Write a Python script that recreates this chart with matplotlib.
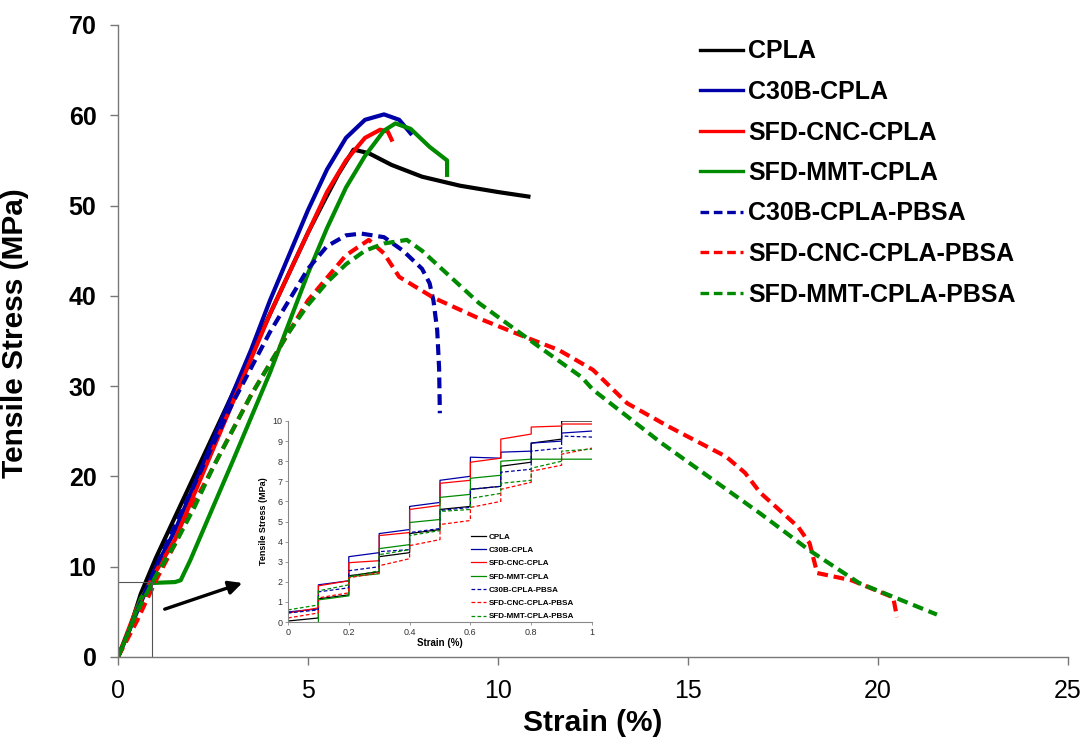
import matplotlib
matplotlib.use("Agg")
import matplotlib.pyplot as plt
import numpy as np

plt.rcParams['font.family'] = ['Liberation Sans', 'DejaVu Sans']

labels = ["CPLA", "C30B-CPLA", "SFD-CNC-CPLA", "SFD-MMT-CPLA",
          "C30B-CPLA-PBSA", "SFD-CNC-CPLA-PBSA", "SFD-MMT-CPLA-PBSA"]
colors = ["#000000", "#0000a8", "#ff0000", "#008a00", "#0000a8", "#ff0000", "#008a00"]
dashed = [False, False, False, False, True, True, True]

# Main curves: strain (%) and stress (MPa)
cpla_x = [0, 0.3, 0.6, 1.0, 1.5, 2.0, 2.5, 3.0, 3.5, 4.0, 4.5, 5.0, 5.4, 5.8, 6.2, 6.6, 7.2, 8.0, 9.0, 10.0, 10.8]
cpla_y = [0, 3, 7, 11, 15.5, 20, 24.5, 29, 33.5, 38, 42.5, 47, 50.3, 53.5, 56.2, 55.8, 54.5, 53.2, 52.2, 51.5, 51.0]
c30b_x = [0, 0.5, 1.0, 1.5, 2.0, 2.5, 3.0, 3.5, 4.0, 4.5, 5.0, 5.5, 6.0, 6.5, 7.0, 7.4, 7.7]
c30b_y = [0, 5, 10, 14, 19, 24, 29, 34, 39.5, 44.5, 49.5, 54, 57.5, 59.5, 60.1, 59.5, 58.0]
cnc_x = [0, 0.5, 1.0, 1.5, 2.0, 2.5, 3.0, 3.5, 4.0, 4.5, 5.0, 5.5, 6.0, 6.5, 6.9, 7.1, 7.2]
cnc_y = [0, 5.5, 9.5, 13, 18, 23, 28, 33, 38, 42.5, 47, 51.5, 55, 57.5, 58.4, 58.2, 57.3]
mmt_x = [0, 0.3, 0.6, 0.9, 1.5, 1.65, 1.9, 2.5, 3.0, 3.5, 4.0, 4.5, 5.0, 5.5, 6.0, 6.5, 7.0, 7.3, 7.7, 8.2, 8.66, 8.66]
mmt_y = [0, 3, 6.5, 8.2, 8.3, 8.5, 10.7, 16.6, 21.5, 26.5, 31.5, 37, 42.5, 47.5, 52, 55.5, 58.3, 59.1, 58.5, 56.5, 55.0, 53.4]
c30b_p_x = [0, 0.5, 1.0, 1.5, 2.0, 2.5, 3.0, 3.5, 4.0, 4.5, 5.0, 5.5, 6.0, 6.4, 7.0, 7.5, 8.0, 8.2, 8.3, 8.4, 8.45, 8.47]
c30b_p_y = [0, 5, 10, 14.5, 19, 23.5, 28, 32, 36, 39.5, 43, 45.5, 46.7, 46.9, 46.5, 45, 43, 41.4, 39.5, 36.2, 32, 27]
cnc_p_x = [0, 0.5, 1.0, 1.5, 2.0, 2.5, 3.0, 3.5, 4.0, 4.5, 5.0, 5.5, 6.0, 6.6, 7.0, 7.4, 8.3, 9.5, 10.8, 11.6, 12.5, 13.4, 14.5, 16.0, 16.5, 16.9, 17.9, 18.2, 18.4, 19.3, 20.4, 20.5]
cnc_p_y = [0, 4, 8.5, 12.5, 17, 21, 25, 29, 32.5, 36, 39.5, 42, 44.5, 46.2, 44.7, 42.1, 39.8, 37.5, 35.3, 34, 31.8, 28.1, 25.5, 22.2, 20.4, 18.2, 14.4, 12.6, 9.3, 8.5, 6.6, 4.4]
mmt_p_x = [0, 0.5, 1.0, 1.5, 2.0, 2.5, 3.0, 3.5, 4.0, 4.5, 5.0, 5.5, 6.0, 6.5, 7.0, 7.6, 8.0, 9.5, 11.1, 12.2, 12.5, 14.3, 16.9, 18.2, 19.5, 21.55]
mmt_p_y = [0, 5, 9, 12.5, 16.5, 21, 25, 29, 32.5, 36, 39, 41.5, 43.5, 45, 45.8, 46.2, 45, 39.2, 34.3, 31, 29.6, 23.7, 15.9, 11.8, 8.2, 4.7]

main_x = [cpla_x, c30b_x, cnc_x, mmt_x, c30b_p_x, cnc_p_x, mmt_p_x]
main_y = [cpla_y, c30b_y, cnc_y, mmt_y, c30b_p_y, cnc_p_y, mmt_p_y]

# Inset: stress at start and end of each 0.1 % strain step
step_edges = [0, 0.1, 0.2, 0.3, 0.4, 0.5, 0.6, 0.7, 0.8, 0.9, 1.0]
ins_start = [
    [0.05, 1.15, 2.3, 3.25, 4.4, 5.6, 6.6, 7.75, 8.9, 10.0],
    [0.5, 1.85, 3.25, 4.4, 5.75, 7.05, 8.2, 8.45, 8.9, 9.4],
    [0.45, 1.8, 2.95, 4.3, 5.6, 6.9, 7.95, 9.1, 9.7, 9.85],
    [None, 1.1, 2.25, 3.65, 4.95, 6.2, 7.15, 8.0, 8.1, 8.1],
    [0.45, 1.5, 2.55, 3.5, 4.45, 5.55, 6.6, 7.45, 8.5, 9.25],
    [0.2, 1.2, 2.2, 2.8, 3.8, 4.85, 5.7, 6.6, 7.5, 8.35],
    [0.6, 1.55, 2.25, 3.35, 4.3, 5.5, 6.15, 6.9, 7.65, 8.5],
]
ins_end = [
    [0.2, 1.35, 2.5, 3.45, 4.6, 5.75, 6.75, 7.95, 9.1, 10.0],
    [0.65, 2.05, 3.45, 4.6, 5.95, 7.25, 8.15, 8.5, 9.0, 9.5],
    [0.7, 2.05, 3.05, 4.45, 5.8, 7.05, 8.15, 9.35, 9.75, 9.85],
    [0.0, 1.3, 2.4, 3.85, 5.1, 6.35, 7.3, 8.1, 8.1, 8.1],
    [0.6, 1.7, 2.75, 3.6, 4.65, 5.7, 6.75, 7.6, 8.65, 9.2],
    [0.45, 1.45, 2.45, 3.15, 4.1, 5.05, 6.0, 6.95, 7.8, 8.65],
    [0.85, 1.85, 2.55, 3.6, 4.55, 5.6, 6.4, 7.05, 8.0, 8.6],
]

W, H = 1085, 740
fig = plt.figure(figsize=(W / 100, H / 100), dpi=100)
ax = fig.add_axes([118 / W, 1 - 657 / H, (1068 - 118) / W, (657 - 25) / H])

for xs, ys, c, d, lab in zip(main_x, main_y, colors, dashed, labels):
    ln, = ax.plot(xs, ys, color=c, lw=3.0, label=lab, solid_joinstyle='round')
    if d:
        ln.set_dashes((2.6, 1.4))

ax.set_xlim(0, 25)
ax.set_ylim(0, 70)
ax.set_xticks([0, 5, 10, 15, 20, 25])
ax.set_yticks(range(0, 71, 10))
for s in ['top', 'right']:
    ax.spines[s].set_visible(False)
for s in ['left', 'bottom']:
    ax.spines[s].set_linewidth(1.0)
    ax.spines[s].set_color('#777777')
ax.tick_params(direction='out', length=5.5, width=1.0, color='#777777',
               labelsize=18, pad=10, labelcolor='black')
for t in ax.get_yticklabels():
    t.set_fontweight('bold')
ax.set_xlabel("Strain (%)", fontsize=21.5, fontweight='bold', labelpad=5)
ax.set_ylabel("Tensile Stress (MPa)", fontsize=21.5, fontweight='bold')
ax.yaxis.set_label_coords(-0.094, 0.513)

leg = ax.legend(loc='upper left', bbox_to_anchor=(687 / W, 1 - 27 / H),
                bbox_transform=fig.transFigure, frameon=False,
                prop={'weight': 'bold', 'size': 18}, handlelength=1.75,
                handletextpad=0.2, labelspacing=0.66, borderpad=0)
for h in leg.get_lines():
    h.set_linewidth(2.4)

# Zoom rectangle and arrow
ax.plot([0, 0.9, 0.9, 0], [8.3, 8.3, 0, 0], color='#555555', lw=0.8)
ax.annotate("", xy=(3.34, 8.3), xytext=(1.16, 5.2),
            arrowprops=dict(arrowstyle='-|>', color='black', lw=2.4, mutation_scale=20))

# Inset
ix = fig.add_axes([288 / W, 1 - 622 / H, (592 - 288) / W, (622 - 421) / H])
for k in range(7):
    xs, ys = [], []
    for i in range(10):
        a, b = ins_start[k][i], ins_end[k][i]
        if a is None:
            continue
        xs += [step_edges[i], step_edges[i + 1]]
        ys += [a, b]
    if k == 3:
        xs = [step_edges[1]] + xs
        ys = [0.0] + ys
    ln, = ix.plot(xs, ys, color=colors[k], lw=0.9, label=labels[k])
    if dashed[k]:
        ln.set_dashes((3, 1.8))
ix.set_xlim(0, 1)
ix.set_ylim(0, 10)
ix.set_xticks([0, 0.2, 0.4, 0.6, 0.8, 1])
ix.set_xticklabels(["0", "0.2", "0.4", "0.6", "0.8", "1"])
ix.set_yticks(range(0, 11))
for s in ['top', 'right']:
    ix.spines[s].set_visible(False)
for s in ['left', 'bottom']:
    ix.spines[s].set_color('#888888')
    ix.spines[s].set_linewidth(0.8)
ix.tick_params(direction='out', length=2, width=0.6, labelsize=6.5, pad=2,
               color='#888888', labelcolor='#333333')
ix.set_xlabel("Strain (%)", fontsize=7, fontweight='bold', labelpad=1)
ix.set_ylabel("Tensile Stress (MPa)", fontsize=6.5, fontweight='bold', labelpad=3)
ix.legend(loc='lower right', bbox_to_anchor=(0.96, -0.02), frameon=False,
          prop={'weight': 'bold', 'size': 5.8}, handlelength=1.9,
          handletextpad=0.3, labelspacing=0.7, borderpad=0.2)

fig.savefig("out.png", dpi=100)
